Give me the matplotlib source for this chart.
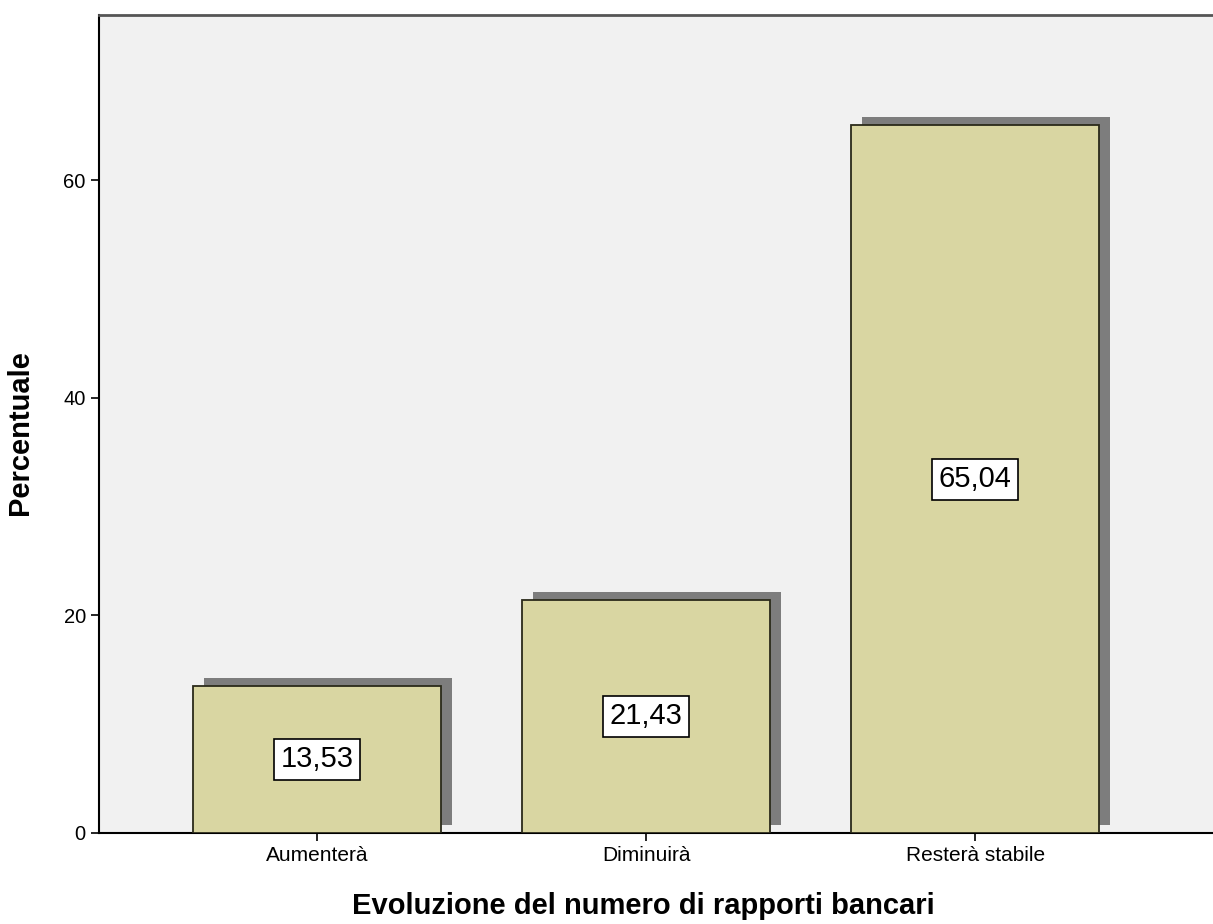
import matplotlib.pyplot as plt
import numpy as np

categorie = ['Aumenterà', 'Diminuirà', 'Resterà stabile']
percentuali = [13.53, 21.43, 65.04]
etichette = ['13,53', '21,43', '65,04']

plt.rcParams['font.family'] = ['Liberation Sans', 'DejaVu Sans']

fig = plt.figure(figsize=(12.13, 9.24), dpi=100)
ax = fig.add_axes([0.0816, 0.0985, 0.9184, 0.8853])
ax.set_facecolor('#f1f1f1')

x = np.arange(len(categorie))
larghezza = 0.754

# ombra dietro le barre
ax.bar(x + 0.032, percentuali, width=larghezza, bottom=0.75, color='#7d7d7d', zorder=2)
ax.bar(x, percentuali, width=larghezza, color='#d9d6a2', edgecolor='#2a2a1a', linewidth=1.3, zorder=3)

for xi, v, lab in zip(x, percentuali, etichette):
    ax.text(xi, v / 2, lab, ha='center', va='center', fontsize=21, zorder=4,
            family=['Liberation Sans Narrow', 'Liberation Sans', 'DejaVu Sans'],
            bbox=dict(boxstyle='square,pad=0.22', facecolor='white', edgecolor='black', linewidth=1.2))

ax.set_xlim(-0.663, 2.723)
ax.set_ylim(0, 75.2)
ax.set_yticks([0, 20, 40, 60])
ax.set_xticks(x)
ax.set_xticklabels(categorie, fontsize=15)
ax.tick_params(axis='y', labelsize=14.5, length=6, width=1.2)
ax.tick_params(axis='x', length=6, width=1.2)

ax.spines['right'].set_visible(False)
for s in ['left', 'bottom']:
    ax.spines[s].set_linewidth(1.5)
ax.spines['top'].set_color('#555555')
ax.spines['top'].set_linewidth(2)

ax.set_ylabel('Percentuale', fontsize=21, fontweight='bold')
ax.yaxis.set_label_coords(-0.058, 0.49)
ax.set_xlabel('Evoluzione del numero di rapporti bancari', fontsize=21, fontweight='bold')
ax.xaxis.set_label_coords(0.489, -0.072)

fig.savefig('out.png', dpi=100, facecolor='white')
